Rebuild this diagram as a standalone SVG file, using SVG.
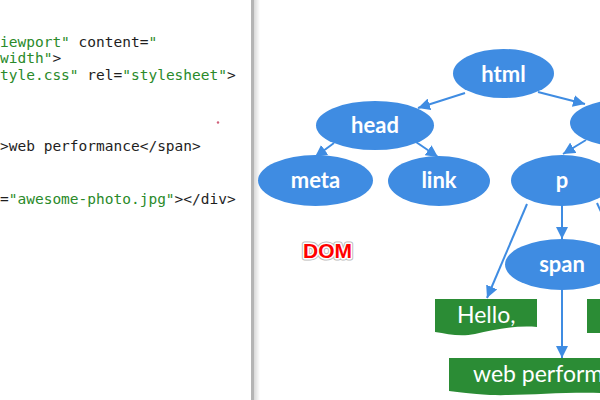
<svg xmlns="http://www.w3.org/2000/svg" width="600" height="400" viewBox="0 0 600 400">
<defs>
<style>
.code{font-family:"DejaVu Sans Mono","Liberation Mono",monospace;font-size:14.5px;fill:#1e1e1e}
.g{fill:#2a8a2a}
.node ellipse{fill:#3f8ce2}
.node text{font-family:Lato,"Open Sans",sans-serif;font-weight:bold;font-size:22px;fill:#fff;text-anchor:middle}
.leaf path{fill:#2b8c35}
.leaf text{font-family:Lato,"Open Sans",sans-serif;font-size:23px;fill:#fff}
.edge{stroke:#3f8ce2;stroke-width:2;fill:none;marker-end:url(#ah)}
</style>
<marker id="ah" markerUnits="userSpaceOnUse" markerWidth="14" markerHeight="12" refX="12" refY="6" orient="auto">
<path d="M0,0 L12,6 L0,12 Z" fill="#3f8ce2"/>
</marker>
<linearGradient id="sh" x1="0" x2="1" y1="0" y2="0">
<stop offset="0" stop-color="#d8d8d8"/>
<stop offset="1" stop-color="#ffffff"/>
</linearGradient>
</defs>
<rect width="600" height="400" fill="#fff"/>
<g id="code">
<text class="code" x="0" y="47"><tspan class="g">iewport"</tspan> content=<tspan class="g">"</tspan></text>
<text class="code" x="0" y="63"><tspan class="g">width"</tspan>&gt;</text>
<text class="code" x="0" y="80"><tspan class="g">tyle.css"</tspan> rel=<tspan class="g">"stylesheet"</tspan>&gt;</text>
<text class="code" x="0" y="151">&gt;web performance&lt;/span&gt;</text>
<text class="code" x="0" y="204">=<tspan class="g">"awesome-photo.jpg"</tspan>&gt;&lt;/div&gt;</text>
<circle cx="218" cy="122.5" r="1.2" fill="#d0607a"/>
</g>
<g id="divider">
<rect x="254" y="0" width="6" height="400" fill="url(#sh)"/>
<rect x="251" y="0" width="3" height="400" fill="#b4b4b4"/>
</g>
<g id="connectors">
<line class="edge" x1="465" y1="93" x2="418" y2="108"/>
<line class="edge" x1="538" y1="92" x2="585" y2="104"/>
<line class="edge" x1="334" y1="143" x2="315" y2="157"/>
<line class="edge" x1="416" y1="142" x2="438" y2="157"/>
<line class="edge" x1="586" y1="140" x2="563" y2="154"/>
<line class="edge" x1="527" y1="204" x2="487" y2="298"/>
<line class="edge" x1="562" y1="206" x2="562" y2="239"/>
<line class="edge" x1="597" y1="203" x2="640" y2="298"/>
<line class="edge" x1="562" y1="290" x2="562" y2="358"/>
</g>
<g id="html" class="node"><ellipse cx="503.5" cy="73.5" rx="50.5" ry="24.5"/><text x="503.5" y="82">html</text></g>
<g id="body" class="node"><ellipse cx="626" cy="123" rx="56" ry="24"/></g>
<g id="head" class="node"><ellipse cx="375" cy="125.5" rx="59" ry="24.5"/><text x="375" y="133">head</text></g>
<g id="meta" class="node"><ellipse cx="315.5" cy="180.5" rx="57.5" ry="25.5"/><text x="315.5" y="188">meta</text></g>
<g id="link" class="node"><ellipse cx="439" cy="181" rx="51" ry="25"/><text x="439" y="188">link</text></g>
<g id="p" class="node"><ellipse cx="562" cy="180.5" rx="51" ry="25.5"/><text x="562" y="188">p</text></g>
<g id="span" class="node"><ellipse cx="562" cy="264.5" rx="57" ry="25.5"/><text x="562" y="272">span</text></g>
<g id="hello" class="leaf"><path d="M435,299 H537 V327 C515,325 495,330 475,334 C460,337 448,334 435,332 Z"/><text x="457" y="323">Hello,</text></g>
<g id="leaf2" class="leaf"><path d="M587,299 H600 V333 H587 Z"/></g>
<g id="webperf" class="leaf"><path d="M449,358 H600 V393 C560,392 520,396 490,395 C470,394 460,392 449,391 Z"/><text x="473" y="382">web performance</text></g>
<g id="dom">
<text x="303" y="258" font-family="Liberation Sans,Arial,sans-serif" font-weight="bold" font-size="21" fill="#ff0000" stroke="#bbbbbb" stroke-width="5" stroke-linejoin="round">DOM</text>
<text x="303" y="258" font-family="Liberation Sans,Arial,sans-serif" font-weight="bold" font-size="21" fill="#ff0000" stroke="#ffffff" stroke-width="3" stroke-linejoin="round" paint-order="stroke">DOM</text>
</g>
</svg>
